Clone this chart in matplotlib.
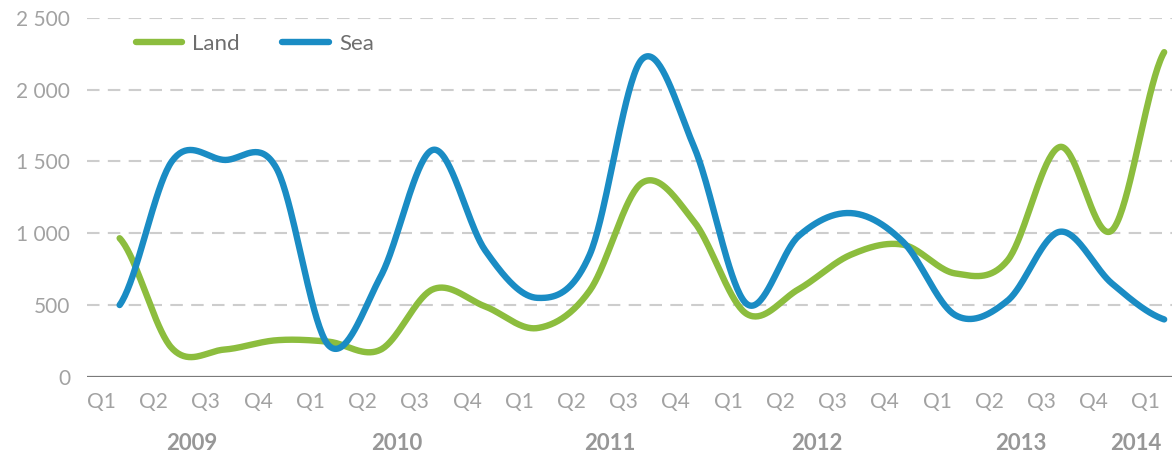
import numpy as np
import matplotlib
matplotlib.use('Agg')
import matplotlib.pyplot as plt

# quarterly values, Q1 2009 .. Q1 2014
quarters = ['Q1', 'Q2', 'Q3', 'Q4'] * 5 + ['Q1']
years = ['2009', '2010', '2011', '2012', '2013', '2014']
land = [965, 200, 190, 255, 245, 190, 610, 490, 340, 600, 1350,
        1080, 440, 610, 850, 920, 720, 810, 1600, 1020, 2260]
sea = [500, 1500, 1510, 1454, 220, 700, 1580, 880, 550, 850, 2210,
       1600, 510, 980, 1140, 940, 430, 530, 1010, 650, 400]
y_ticks = [0, 500, 1000, 1500, 2000, 2500]

LAND_COLOR = '#8cbd3e'
SEA_COLOR = '#1a8cc4'
GRID_COLOR = '#cdcdcd'
TICK_COLOR = '#a2a2a2'
FONT = ['Lato', 'DejaVu Sans']

# where the year captions sit, in quarter units
YEAR_POS = [1.38, 5.31, 9.39, 13.35, 17.26, 19.45]
LABEL_SHIFT = 0.35


def smooth(values, n=40):
    # catmull-rom through every point, like a spreadsheet "smoothed line"
    p = np.asarray(values, dtype=float)
    pad = np.concatenate([[p[0]], p, [p[-1]]])
    xs, ys = [], []
    for i in range(len(p) - 1):
        p0, p1, p2, p3 = pad[i], pad[i + 1], pad[i + 2], pad[i + 3]
        m1 = (p2 - p0) / 2
        m2 = (p3 - p1) / 2
        t = np.linspace(0, 1, n, endpoint=False)
        h00 = 2 * t**3 - 3 * t**2 + 1
        h10 = t**3 - 2 * t**2 + t
        h01 = -2 * t**3 + 3 * t**2
        h11 = t**3 - t**2
        xs.append(i + t)
        ys.append(h00 * p1 + h10 * m1 + h01 * p2 + h11 * m2)
    xs.append([len(p) - 1])
    ys.append([p[-1]])
    return np.concatenate(xs), np.concatenate(ys)


plt.rcParams['font.family'] = FONT
fig = plt.figure(figsize=(11.72, 4.53), dpi=100)
ax = fig.add_axes([0.074, 0.168, 0.926, 0.793])

for v in y_ticks[1:]:
    ax.axhline(v, color=GRID_COLOR, lw=1.5, dashes=(6, 4), zorder=1)
ax.axhline(0, color='#7a7a7a', lw=1.6, zorder=1)

x, y = smooth(land)
ax.plot(x, y, color=LAND_COLOR, lw=4.6, solid_capstyle='round', label='Land', zorder=3)
x, y = smooth(sea)
ax.plot(x, y, color=SEA_COLOR, lw=4.6, solid_capstyle='round', label='Sea', zorder=4)

ax.set_xlim(-0.63, 20.15)
ax.set_ylim(0, 2500)

idx = np.arange(len(quarters))
ax.set_xticks(idx - LABEL_SHIFT)
ax.set_xticklabels(quarters)
ax.set_yticks(y_ticks)
ax.set_yticklabels([f'{v:,}'.replace(',', ' ') for v in y_ticks])
ax.tick_params(axis='x', length=0, pad=11, labelsize=15, labelcolor=TICK_COLOR)
ax.tick_params(axis='y', length=0, pad=12, labelsize=15, labelcolor=TICK_COLOR)

for yr, pos in zip(years, YEAR_POS):
    ax.text(pos, -0.185, yr, transform=ax.get_xaxis_transform(), ha='center', va='center',
            fontsize=16, fontweight='bold', color='#979797')

for s in ax.spines.values():
    s.set_visible(False)

leg = ax.legend(loc='center left', bbox_to_anchor=(0.035, 0.926), ncol=2, frameon=False,
                borderpad=0, handlelength=2.1, handletextpad=0.45, columnspacing=1.9,
                prop={'size': 16, 'family': FONT})
for t in leg.get_texts():
    t.set_color('#6e6e6e')

fig.savefig('out.png', dpi=100)
